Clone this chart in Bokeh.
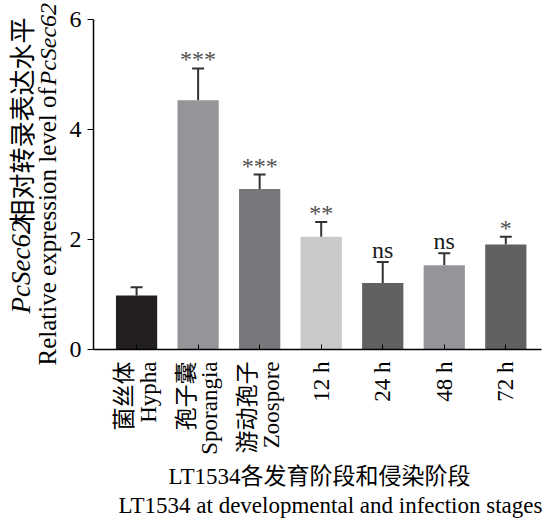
import math
from bokeh.plotting import figure
from bokeh.models import ColumnDataSource, Range1d, FixedTicker, Whisker, TeeHead
from bokeh.layouts import row, column
from bokeh.core.properties import value
from bokeh.embed import file_html
from bokeh.resources import INLINE

# ---- data ----
categories_cn = ["菌丝体", "孢子囊", "游动孢子", "", "", "", ""]
categories_en = ["Hypha", "Sporangia", "Zoospore", "12 h", "24 h", "48 h", "72 h"]
means = [0.98, 4.53, 2.92, 2.05, 1.21, 1.53, 1.91]
errors = [0.15, 0.58, 0.26, 0.27, 0.38, 0.22, 0.14]
significance = ["", "***", "***", "**", "ns", "ns", "*"]
bar_colors = ["#231f20", "#939598", "#77787b", "#c8c9cb", "#616163", "#939598", "#616163"]
y_ticks = [0, 2, 4, 6]
y_title_cn = "相对转录表达水平"
y_title_en = "Relative expression level of"
gene = "PcSec62"
x_title_cn = "LT1534各发育阶段和侵染阶段"
x_title_en = "LT1534 at developmental and infection stages"

ROMAN = "'Liberation Serif', 'Noto Sans CJK SC'"
SERIF = "Liberation Serif"
CJK = "Noto Sans CJK SC"

xs = list(range(len(means)))
uppers = [m + e for m, e in zip(means, errors)]
offsets = [-12 if s == "ns" else -9 for s in significance]
sig_colors = ["#1a1a1a" if s == "ns" else "#505050" for s in significance]
src = ColumnDataSource(dict(x=xs, mean=means, upper=uppers, color=bar_colors,
                            sig=significance, off=offsets, scol=sig_colors))

MAIN_H = 460
LEFT_W = 66
p = figure(width=544 - LEFT_W, height=MAIN_H, output_backend="svg", toolbar_location=None,
           x_range=Range1d(-0.70, 6.58), y_range=Range1d(0, 6),
           min_border_left=93 - LEFT_W, min_border_right=3, min_border_top=19,
           min_border_bottom=MAIN_H - 349)
p.outline_line_color = None
p.grid.visible = False

p.vbar(x="x", top="mean", width=0.67, fill_color="color", line_color=None, source=src)

w = Whisker(source=src, base="x", upper="upper", lower="mean",
            upper_head=TeeHead(size=12, line_width=2, line_color="#333333"),
            lower_head=None, line_width=2, line_color="#333333")
p.add_layout(w)

p.text(x="x", y="upper", text="sig", source=src, text_align="center",
       text_baseline="alphabetic", y_offset="off",
       text_font=value(SERIF), text_font_size="24px", text_color="scol")

xa = p.xaxis[0]
xa.ticker = FixedTicker(ticks=xs)
xa.major_label_overrides = {i: (c + "\n" + e if c else e)
                            for i, (c, e) in enumerate(zip(categories_cn, categories_en))}
xa.major_label_orientation = math.pi / 2
xa.major_tick_in = 5
xa.major_tick_out = 0
xa.minor_tick_line_color = None
xa.major_label_text_font = ROMAN
xa.major_label_text_font_size = "23px"
xa.major_label_text_line_height = 0.95
xa.major_label_text_color = "black"
xa.major_label_standoff = 12
xa.axis_line_width = 1.5
xa.axis_line_color = "black"
xa.major_tick_line_color = "black"

ya = p.yaxis[0]
ya.ticker = FixedTicker(ticks=y_ticks)
ya.major_tick_in = 0
ya.major_tick_out = 6
ya.minor_tick_line_color = None
ya.major_label_text_font = SERIF
ya.major_label_text_font_size = "24px"
ya.major_label_text_color = "black"
ya.major_label_standoff = 6
ya.axis_line_width = 1.5
ya.axis_line_color = "black"
ya.major_tick_line_color = "black"


def blank(width, height):
    f = figure(width=width, height=height, output_backend="svg", toolbar_location=None,
               x_range=Range1d(0, width), y_range=Range1d(0, height),
               x_axis_type=None, y_axis_type=None, min_border=0,
               min_border_left=0, min_border_right=0, min_border_top=0,
               min_border_bottom=0, frame_align=False)
    f.outline_line_color = None
    f.grid.visible = False
    return f


# y-axis title panel (two rotated lines, gene name in italic)
yt = blank(LEFT_W, MAIN_H)
rot = math.pi / 2
yt.text(x=[20], y=[MAIN_H - 313], text=[gene], angle=rot, text_align="left",
        text_baseline="middle", text_font=value(SERIF), text_font_style="italic",
        text_font_size="27px", text_color="black")
yt.text(x=[20], y=[MAIN_H - 225], text=[y_title_cn], angle=rot, text_align="left",
        text_baseline="middle", text_font=value(CJK), text_font_size="26px",
        text_color="black")
yt.text(x=[47], y=[MAIN_H - 365], text=[y_title_en], angle=rot, text_align="left",
        text_baseline="middle", text_font=value(SERIF), text_font_size="25px",
        text_color="black")
yt.text(x=[47], y=[MAIN_H - 85], text=[gene], angle=rot, text_align="left",
        text_baseline="middle", text_font=value(SERIF), text_font_style="italic",
        text_font_size="24px", text_color="black")

# x-axis title panel
BOT_H = 521 - MAIN_H
xt = blank(544, BOT_H)
xt.text(x=[319], y=[BOT_H - 16], text=[x_title_cn], text_align="center",
        text_baseline="middle", text_font=value(ROMAN), text_font_size="23px",
        text_color="black")
xt.text(x=[330], y=[BOT_H - 45], text=[x_title_en], text_align="center",
        text_baseline="middle", text_font=value(SERIF), text_font_size="23px",
        text_color="black")

layout = column(row(yt, p, spacing=0), xt, spacing=0)
open("out.html", "w").write(file_html(layout, INLINE))
